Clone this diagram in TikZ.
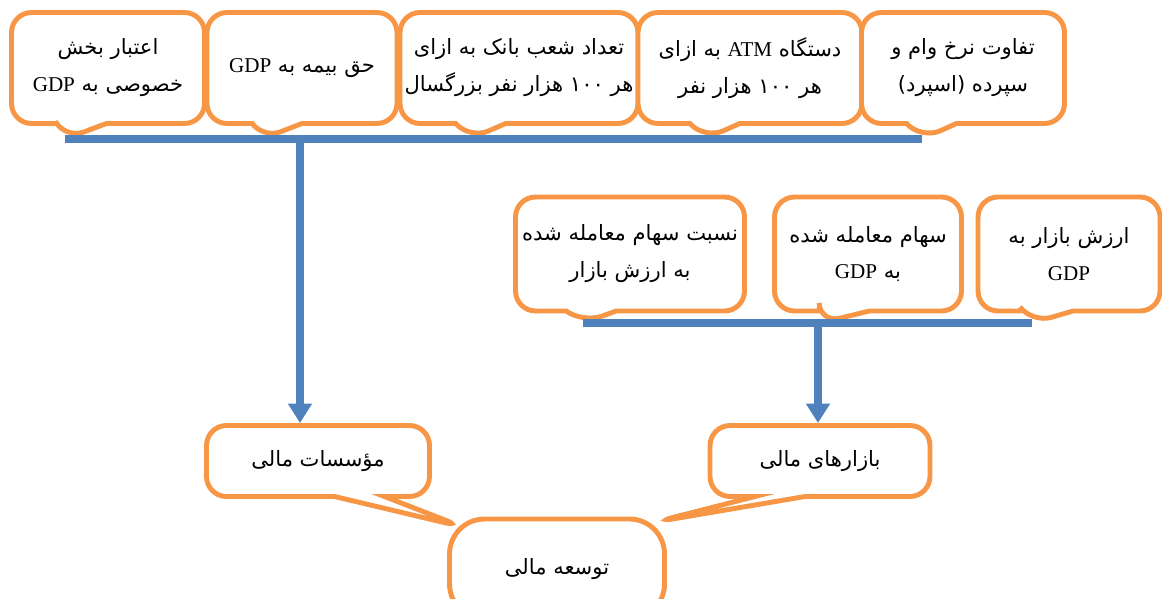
\documentclass[tikz,border=0pt]{standalone}
\usepackage{fontspec}
\usepackage{tikz}
\usetikzlibrary{shapes.callouts,arrows.meta}
\TeXXeTstate=1
\newfontfamily\fa[Script=Arabic]{DejaVu Sans}
\newfontfamily\lat{Liberation Serif}
\newcommand{\rtltext}[1]{\beginR #1\endR}
\newcommand{\ltrtext}[1]{\beginL{\lat #1}\endL}
\definecolor{orng}{rgb}{0.97, 0.59, 0.27}
\definecolor{blu}{rgb}{0.31, 0.51, 0.74}

\begin{document}
\begin{tikzpicture}[x=0.02cm, y=-0.02cm,
        box/.style={rectangle callout, draw=orng, line width=2.8pt, fill=white,
            rounded corners=0.4cm, callout pointer width=1cm, inner sep=0pt,
            align=center, font=\fa\fontsize{12}{21}\selectfont},
        bus/.style={draw=blu, line width=4.5pt},
        down/.style={draw=blu, line width=4.5pt, -{Triangle[width=13pt,length=11pt]}}]

            \useasboundingbox (0,0) rectangle (1162,598);

            % tips of the callouts
            \coordinate (t1) at (65,139);
            \coordinate (t2) at (262,139);
            \coordinate (t3) at (470,139);
            \coordinate (t4) at (705,139);
            \coordinate (t5) at (922,139);
            \coordinate (s1) at (583,323);
            \coordinate (s2) at (820,323);
            \coordinate (s3) at (1032,323);
            \coordinate (j1) at (300,139);
            \coordinate (j2) at (818,323);
            \coordinate (d1) at (463,527);
            \coordinate (d2) at (655,522);

            % top row
            \node[box, minimum width=3.86cm, minimum height=2.22cm, callout absolute pointer={(t1)}] (credit) at (108,68)
                {\rtltext{اعتبار بخش}\\ \rtltext{خصوصی به \ltrtext{GDP}}};
            \node[box, minimum width=3.80cm, minimum height=2.22cm, callout absolute pointer={(t2)}] (insur) at (302,68)
                {\rtltext{حق بیمه به \ltrtext{GDP}}};
            \node[box, minimum width=4.76cm, minimum height=2.22cm, callout absolute pointer={(t3)}] (branch) at (519,68)
                {\rtltext{تعداد شعب بانک به ازای}\\ \rtltext{هر ۱۰۰ هزار نفر بزرگسال}};
            \node[box, minimum width=4.48cm, minimum height=2.22cm, callout absolute pointer={(t4)}] (atm) at (750,68)
                {\rtltext{دستگاه \ltrtext{ATM} به ازای}\\ \rtltext{هر ۱۰۰ هزار نفر}};
            \node[box, minimum width=4.06cm, minimum height=2.22cm, callout absolute pointer={(t5)}] (spread) at (963,68)
                {\rtltext{تفاوت نرخ وام و}\\ \rtltext{سپرده (اسپرد)}};

            % middle row
            \node[box, minimum width=4.58cm, minimum height=2.28cm, callout absolute pointer={(s1)}] (turn) at (630,254)
                {\rtltext{نسبت سهام معامله شده}\\ \rtltext{به ارزش بازار}};
            \node[box, minimum width=3.74cm, minimum height=2.28cm, callout absolute pointer={(s2)}] (traded) at (868,254)
                {\rtltext{سهام معامله شده}\\ \rtltext{به \ltrtext{GDP}}};
            \node[box, minimum width=3.64cm, minimum height=2.28cm, callout absolute pointer={(s3)}] (cap) at (1069,254)
                {\rtltext{ارزش بازار به}\\ \ltrtext{GDP}};

            % bottom row
            \node[box, minimum width=4.46cm, minimum height=1.42cm, callout absolute pointer={(d1)}] (inst) at (318,461)
                {\rtltext{مؤسسات مالی}};
            \node[box, minimum width=4.40cm, minimum height=1.42cm, callout absolute pointer={(d2)}] (mkt) at (820,461)
                {\rtltext{بازارهای مالی}};
            \node[box, rectangle, rounded corners=0.7cm, minimum width=4.30cm, minimum height=2.00cm] (dev) at (557,569)
                {\rtltext{توسعه مالی}};

            \draw[bus] (t1) -- (t5);
            \draw[bus] (s1) -- (s3);
            \draw[down] (j1) -- (j1 |- inst.north);
            \draw[down] (j2) -- (j2 |- mkt.north);
        \end{tikzpicture}
\end{document}
